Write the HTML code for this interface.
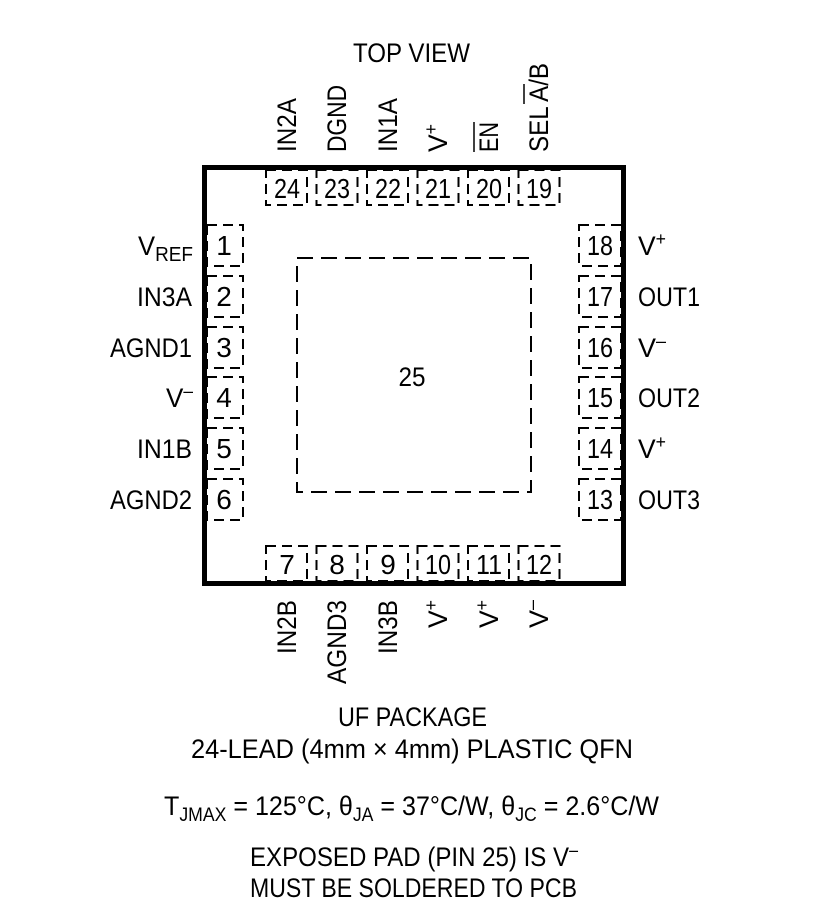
<!DOCTYPE html>
<html><head><style>
html,body{margin:0;padding:0;background:#fff;}
svg{display:block;}
text{font-family:"Liberation Sans Narrow","Liberation Sans",sans-serif;fill:#000;}
</style></head><body>
<svg width="815" height="917" viewBox="0 0 815 917" xmlns="http://www.w3.org/2000/svg">
<text x="353" y="62" font-size="27" textLength="117" lengthAdjust="spacingAndGlyphs">TOP VIEW</text>
<rect x="204.5" y="167.5" width="419" height="416" fill="none" stroke="#000" stroke-width="5"/>
<rect x="297" y="258" width="234" height="234" fill="none" stroke="#000" stroke-width="2" stroke-dasharray="16 8"/>
<text x="412" y="386" font-size="27" text-anchor="middle" textLength="27" lengthAdjust="spacingAndGlyphs">25</text>
<g fill="none" stroke="#000" stroke-width="2" stroke-dasharray="10 6">
<rect x="266" y="170" width="41" height="35"/>
<rect x="316.5" y="170" width="41" height="35"/>
<rect x="367" y="170" width="41" height="35"/>
<rect x="417.5" y="170" width="41" height="35"/>
<rect x="468" y="170" width="41" height="35"/>
<rect x="518.5" y="170" width="41" height="35"/>
<rect x="266" y="546" width="41" height="35"/>
<rect x="316.5" y="546" width="41" height="35"/>
<rect x="367" y="546" width="41" height="35"/>
<rect x="417.5" y="546" width="41" height="35"/>
<rect x="468" y="546" width="41" height="35"/>
<rect x="518.5" y="546" width="41" height="35"/>
<rect x="207" y="225" width="36" height="41"/>
<rect x="207" y="276" width="36" height="41"/>
<rect x="207" y="327" width="36" height="41"/>
<rect x="207" y="377" width="36" height="41"/>
<rect x="207" y="428" width="36" height="41"/>
<rect x="207" y="479" width="36" height="41"/>
<rect x="579" y="225" width="42" height="41"/>
<rect x="579" y="276" width="42" height="41"/>
<rect x="579" y="327" width="42" height="41"/>
<rect x="579" y="377" width="42" height="41"/>
<rect x="579" y="428" width="42" height="41"/>
<rect x="579" y="479" width="42" height="41"/>
</g>
<g font-size="28" text-anchor="middle">
<text x="287" y="198" textLength="26" lengthAdjust="spacingAndGlyphs">24</text><text x="337" y="198" textLength="26" lengthAdjust="spacingAndGlyphs">23</text><text x="388" y="198" textLength="26" lengthAdjust="spacingAndGlyphs">22</text>
<text x="438" y="198" textLength="26" lengthAdjust="spacingAndGlyphs">21</text><text x="489" y="198" textLength="26" lengthAdjust="spacingAndGlyphs">20</text><text x="539" y="198" textLength="26" lengthAdjust="spacingAndGlyphs">19</text>
<text x="287" y="574">7</text><text x="337" y="574">8</text><text x="388" y="574">9</text>
<text x="438" y="574" textLength="26" lengthAdjust="spacingAndGlyphs">10</text><text x="489" y="574" textLength="26" lengthAdjust="spacingAndGlyphs">11</text><text x="539" y="574" textLength="26" lengthAdjust="spacingAndGlyphs">12</text>
<text x="224" y="255">1</text><text x="224" y="306">2</text><text x="224" y="357">3</text>
<text x="224" y="407">4</text><text x="224" y="458">5</text><text x="224" y="509">6</text>
<text x="600" y="255" textLength="26" lengthAdjust="spacingAndGlyphs">18</text><text x="600" y="306" textLength="26" lengthAdjust="spacingAndGlyphs">17</text><text x="600" y="357" textLength="26" lengthAdjust="spacingAndGlyphs">16</text>
<text x="600" y="407" textLength="26" lengthAdjust="spacingAndGlyphs">15</text><text x="600" y="458" textLength="26" lengthAdjust="spacingAndGlyphs">14</text><text x="600" y="509" textLength="26" lengthAdjust="spacingAndGlyphs">13</text>
</g>
<g font-size="27">
<text x="138" y="255" textLength="55" lengthAdjust="spacingAndGlyphs">V<tspan font-size="20" dy="6">REF</tspan></text>
<text x="137" y="306" textLength="55" lengthAdjust="spacingAndGlyphs">IN3A</text>
<text x="110" y="357" textLength="82" lengthAdjust="spacingAndGlyphs">AGND1</text>
<text x="166" y="407" textLength="27" lengthAdjust="spacingAndGlyphs">V<tspan font-size="18" dy="-10">–</tspan></text>
<text x="137" y="458" textLength="55" lengthAdjust="spacingAndGlyphs">IN1B</text>
<text x="110" y="509" textLength="82" lengthAdjust="spacingAndGlyphs">AGND2</text>
</g>
<g font-size="27">
<text x="638" y="255" textLength="28" lengthAdjust="spacingAndGlyphs">V<tspan font-size="18" dy="-10">+</tspan></text>
<text x="638" y="306" textLength="62" lengthAdjust="spacingAndGlyphs">OUT1</text>
<text x="638" y="357" textLength="28" lengthAdjust="spacingAndGlyphs">V<tspan font-size="18" dy="-10">–</tspan></text>
<text x="638" y="407" textLength="62" lengthAdjust="spacingAndGlyphs">OUT2</text>
<text x="638" y="458" textLength="28" lengthAdjust="spacingAndGlyphs">V<tspan font-size="18" dy="-10">+</tspan></text>
<text x="638" y="509" textLength="62" lengthAdjust="spacingAndGlyphs">OUT3</text>
</g>
<g font-size="27">
<text transform="translate(296,152) rotate(-90)" textLength="54" lengthAdjust="spacingAndGlyphs">IN2A</text>
<text transform="translate(346,152) rotate(-90)" textLength="67" lengthAdjust="spacingAndGlyphs">DGND</text>
<text transform="translate(397,152) rotate(-90)" textLength="54" lengthAdjust="spacingAndGlyphs">IN1A</text>
<text transform="translate(447,152) rotate(-90)" textLength="28" lengthAdjust="spacingAndGlyphs">V<tspan font-size="18" dy="-10">+</tspan></text>
<text transform="translate(498,152) rotate(-90)" textLength="30" lengthAdjust="spacingAndGlyphs">EN</text>
<text transform="translate(548,152) rotate(-90)" textLength="89" lengthAdjust="spacingAndGlyphs">SEL A/B</text>
</g>
<line x1="474" y1="122" x2="474" y2="152" stroke="#000" stroke-width="1.5"/>
<line x1="524" y1="84" x2="524" y2="104" stroke="#000" stroke-width="1.5"/>
<g font-size="27">
<text transform="translate(296,654) rotate(-90)" textLength="54" lengthAdjust="spacingAndGlyphs">IN2B</text>
<text transform="translate(346,684) rotate(-90)" textLength="84" lengthAdjust="spacingAndGlyphs">AGND3</text>
<text transform="translate(397,654) rotate(-90)" textLength="54" lengthAdjust="spacingAndGlyphs">IN3B</text>
<text transform="translate(447,628) rotate(-90)" textLength="28" lengthAdjust="spacingAndGlyphs">V<tspan font-size="18" dy="-10">+</tspan></text>
<text transform="translate(498,628) rotate(-90)" textLength="28" lengthAdjust="spacingAndGlyphs">V<tspan font-size="18" dy="-10">+</tspan></text>
<text transform="translate(548,628) rotate(-90)" textLength="28" lengthAdjust="spacingAndGlyphs">V<tspan font-size="18" dy="-10">–</tspan></text>
</g>
<g font-size="27">
<text x="338" y="726" textLength="149" lengthAdjust="spacingAndGlyphs">UF PACKAGE</text>
<text x="191" y="758" textLength="442" lengthAdjust="spacingAndGlyphs">24-LEAD (4mm × 4mm) PLASTIC QFN</text>
<text x="164" y="815" textLength="495" lengthAdjust="spacingAndGlyphs">T<tspan font-size="19" dy="6">JMAX</tspan><tspan dy="-6"> = 125°C, θ</tspan><tspan font-size="19" dy="6">JA</tspan><tspan dy="-6"> = 37°C/W, θ</tspan><tspan font-size="19" dy="6">JC</tspan><tspan dy="-6"> = 2.6°C/W</tspan></text>
<text x="250" y="866" textLength="328" lengthAdjust="spacingAndGlyphs">EXPOSED PAD (PIN 25) IS V<tspan font-size="18" dy="-10">–</tspan></text>
<text x="250" y="897" textLength="327" lengthAdjust="spacingAndGlyphs">MUST BE SOLDERED TO PCB</text>
</g>
</svg>
</body></html>
